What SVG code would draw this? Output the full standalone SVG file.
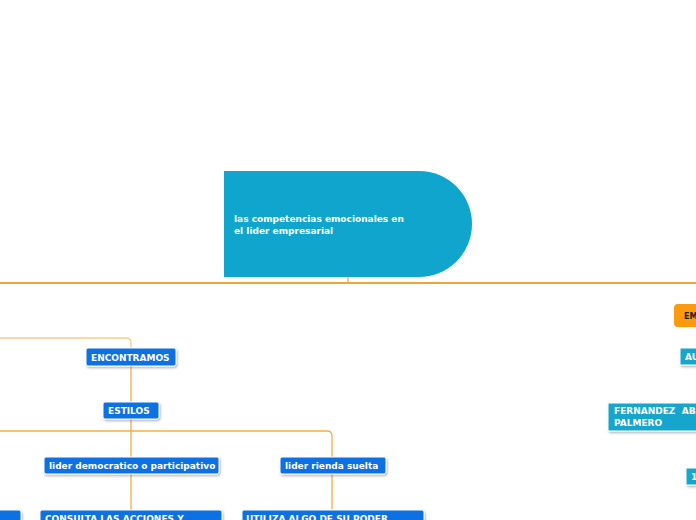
<svg xmlns="http://www.w3.org/2000/svg" width="696" height="520" viewBox="0 0 696 520">
<defs>
<filter id="sh" x="-10%" y="-20%" width="130%" height="160%">
<feDropShadow dx="1" dy="1.5" stdDeviation="0.8" flood-color="#000" flood-opacity="0.3"/>
</filter>
</defs>
<style>
.t{font-family:"DejaVu Sans",Verdana,sans-serif;font-weight:bold;font-size:9px;fill:#fff}
.tb{font-family:"DejaVu Sans",Verdana,sans-serif;font-weight:bold;font-size:8px;fill:#1a1a1a}
.blue{fill:#0a6fe3;stroke:#fff;stroke-width:1;filter:url(#sh)}
.teal{fill:#12a6cd;stroke:#fff;stroke-width:1;filter:url(#sh)}
.main{stroke:#f2a33a;stroke-width:2;fill:none}
.sub{stroke:#f6ae45;stroke-width:1.3;fill:none}
.lite{stroke:#f9cc8c;stroke-width:1.3;fill:none}
</style>
<rect width="696" height="520" fill="#fff"/>
<g id="connectors">
<line class="main" x1="0" y1="283" x2="696" y2="283"/>
<line class="sub" x1="348" y1="277" x2="348" y2="283"/>
<path class="lite" d="M0 338 H126 Q131 338 131 343 V348"/>
<line class="sub" x1="131" y1="366" x2="131" y2="402"/>
<path class="sub" d="M0 431 H327 Q332 431 332 436 V457"/>
<line class="sub" x1="131" y1="419" x2="131" y2="457"/>
<line class="sub" x1="131" y1="474" x2="131" y2="510"/>
<line class="sub" x1="332" y1="474" x2="332" y2="510"/>
</g>
<g id="root">
<path d="M224 171 H419 A53 53 0 0 1 419 277 H224 Z" fill="#10a5cc"/>
<text class="t" x="234" y="222">las competencias emocionales en</text>
<text class="t" x="234" y="234">el lider empresarial</text>
</g>
<g id="encontramos">
<rect class="blue" x="86" y="348" width="90" height="18" rx="2"/>
<text class="t" x="91" y="360.5">ENCONTRAMOS</text>
</g>
<g id="estilos">
<rect class="blue" x="103" y="402" width="56" height="17" rx="2"/>
<text class="t" x="108" y="414">ESTILOS</text>
</g>
<g id="democratico">
<rect class="blue" x="44" y="457" width="175" height="17" rx="2"/>
<text class="t" x="49" y="469">lider democratico o participativo</text>
</g>
<g id="rienda">
<rect class="blue" x="280" y="457" width="106" height="17" rx="2"/>
<text class="t" x="285" y="469">lider rienda suelta</text>
</g>
<g id="consulta">
<rect class="blue" x="40" y="510" width="182" height="20" rx="2"/>
<text class="t" x="45" y="522">CONSULTA LAS ACCIONES Y</text>
</g>
<g id="utiliza">
<rect class="blue" x="242" y="510" width="182" height="20" rx="2"/>
<text class="t" x="246" y="522">UTILIZA ALGO DE SU PODER</text>
</g>
<g id="leftnode">
<rect class="blue" x="-10" y="510" width="31" height="20" rx="2"/>
</g>
<g id="em">
<rect x="674" y="304" width="40" height="23" rx="4" fill="#fa9a0c"/>
<text class="tb" x="684" y="318.5">EM</text>
</g>
<g id="au">
<rect class="teal" x="680" y="348" width="30" height="17" rx="1"/>
<text class="t" x="685" y="360">AU</text>
</g>
<g id="fernandez">
<rect class="teal" x="608" y="403" width="100" height="28" rx="1"/>
<text class="t" x="614" y="414" style="white-space:pre">FERNANDEZ  ABA</text>
<text class="t" x="614" y="425.5">PALMERO</text>
</g>
<g id="one">
<rect class="teal" x="686" y="468" width="20" height="17" rx="1"/>
<text class="t" x="691" y="480">1</text>
</g>
</svg>
